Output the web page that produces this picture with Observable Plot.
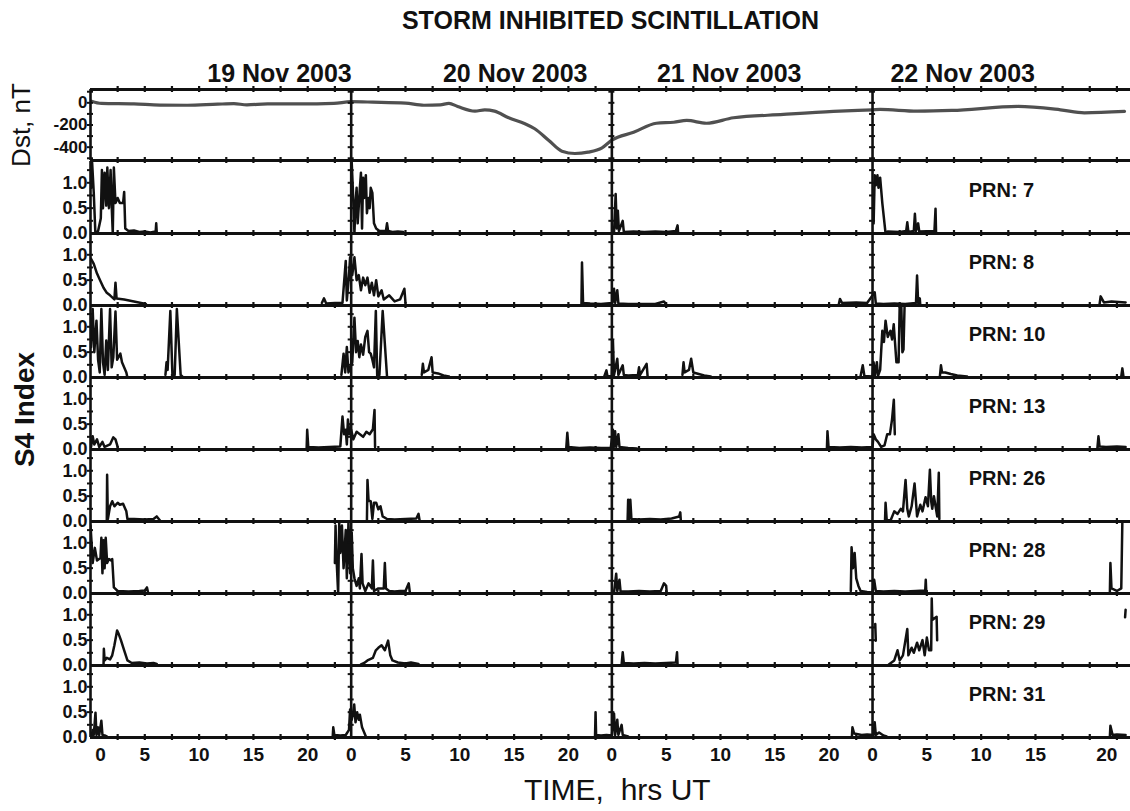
<!DOCTYPE html>
<html><head><meta charset="utf-8">
<script src="https://cdn.jsdelivr.net/npm/d3@7"></script>
<script src="https://cdn.jsdelivr.net/npm/@observablehq/plot@0.6"></script>
<style>
body{margin:0;background:#fff;}
#wrap{position:relative;width:1130px;height:811px;overflow:hidden;background:#fff;}
#wrap svg{position:absolute;left:0;}
</style></head><body><div id="wrap"></div>
<script>
// ---------- DATA (hours counted from 19 Nov 2003 00 UT) ----------
const dayLabels = ["19 Nov 2003", "20 Nov 2003", "21 Nov 2003", "22 Nov 2003"];
const dayLabelHours = [17.4, 39.1, 58.8, 80.3];
const dayStarts = [0, 24, 48, 72];
const hourTickLabels = [0, 5, 10, 15, 20];
const dstTicks = [0, -200, -400];
const s4Ticks = [0, 0.5, 1.0];

const dstHours = [0.1,1,4,6.4,8.9,11.7,13.2,14.4,16.3,19.3,22.4,24,26,29,30.7,32.2,33,33.8,35.4,36.3,37.2,38.5,40,40.9,42.2,43.4,44.6,45.8,47.1,48,50,52.1,53.7,54.9,56.7,59.2,63.8,68.4,72,72.7,76.1,79.3,85.4,89.3,91.5,95.2];
const dstValues = [15,-5,-10,-20,-22,-12,-8,-18,-10,-10,-5,10,6,-3,-22,-18,-5,-33,-75,-63,-75,-135,-189,-234,-340,-436,-457,-445,-406,-337,-266,-184,-175,-159,-184,-135,-105,-78,-63,-60,-75,-69,-33,-63,-90,-78];

const prnNumbers = [7, 8, 10, 13, 26, 28, 29, 31];

// each PRN: list of segments of [hour, S4]
const prn7 = [
  [[0.05,0.9],[0.15,1.4],[0.3,0.8],[0.45,0.0],[0.7,0.05],[0.95,0.3],[1.05,1.25],[1.15,0.5],[1.3,1.2],[1.45,0.55],[1.55,1.3],[1.7,0.5],[1.85,1.25],[1.95,0.55],[2.05,0.0],[2.15,1.3],[2.3,0.6],[2.5,0.7],[2.7,0.6],[3.0,0.6],[3.1,0.82],[3.2,0.1],[3.5,0.05],[4,0.06],[4.5,0.03],[5,0.04],[5.5,0.02],[6.0,0.04],[6.05,0.2],[6.1,0.02]],
  [[24.05,1.4],[24.15,0.9],[24.3,0.0],[24.4,0.6],[24.5,0.9],[24.6,0.2],[24.8,0.9],[24.9,1.2],[25.0,0.1],[25.1,1.1],[25.2,0.7],[25.35,1.15],[25.45,0.4],[25.6,0.7],[25.7,0.5],[25.8,0.9],[25.95,0.8],[26.1,0.2],[26.3,0.1],[26.6,0.05],[27.2,0.05],[27.3,0.2],[27.4,0.05],[27.8,0.03],[28.3,0.04],[28.8,0.03]],
  [[48.2,0.02],[48.35,0.78],[48.45,0.1],[48.55,0.45],[48.65,0.05],[49.0,0.25],[49.1,0.03],[50,0.04],[51,0.03],[52,0.04],[53,0.03],[53.9,0.05],[54.05,0.16],[54.1,0.02]],
  [[72.1,0.2],[72.2,1.15],[72.3,0.95],[72.45,1.15],[72.55,0.9],[72.7,1.1],[72.9,0.6],[73.2,0.0],[73.4,0.04],[74.5,0.03],[75.1,0.05],[75.2,0.22],[75.3,0.03],[75.8,0.05],[75.9,0.39],[76.0,0.05],[76.2,0.2],[76.3,0.04],[77.7,0.05],[77.8,0.49],[77.85,0.0]]
];
const prn8 = [
  [[0.05,0.92],[0.3,0.82],[0.6,0.63],[0.9,0.49],[1.2,0.35],[1.5,0.25],[1.8,0.2],[2.2,0.12],[2.3,0.45],[2.4,0.14],[3.1,0.12],[4.0,0.08],[5.1,0.03]],
  [[21.3,0.05],[21.5,0.14],[21.7,0.04],[22.5,0.05],[23.2,0.05],[23.5,0.88],[23.6,0.1],[23.8,0.6],[23.9,0.95],[24.1,0.6],[24.3,0.95],[24.5,0.5],[24.7,0.6],[24.9,0.3],[25.1,0.55],[25.3,0.4],[25.5,0.55],[25.7,0.25],[25.9,0.45],[26.1,0.2],[26.3,0.5],[26.5,0.18],[26.8,0.3],[27.0,0.12],[27.5,0.2],[28.0,0.08],[28.5,0.12],[28.9,0.33],[29.0,0.05]],
  [[45.2,0.02],[45.25,0.85],[45.35,0.05],[46,0.04],[47,0.03],[47.5,0.04],[48.05,0.05],[48.2,0.33],[48.3,0.05],[48.5,0.3],[48.6,0.04],[49.5,0.03],[50.5,0.03],[52,0.03],[52.8,0.08],[53.0,0.02]],
  [[68.9,0.03],[69.0,0.13],[69.2,0.05],[70.5,0.06],[71.5,0.05],[72.2,0.26],[72.3,0.04],[73,0.03],[74,0.04],[75,0.03],[76.0,0.05],[76.1,0.59],[76.2,0.05],[76.35,0.14],[76.4,0.0]],
  [[92.9,0.02],[93.0,0.18],[93.3,0.06],[94,0.08],[95.3,0.06]]
];
const prn10 = [
  [[0.05,0.6],[0.2,1.35],[0.35,0.5],[0.55,1.12],[0.7,0.35],[0.85,0.1],[1.0,1.35],[1.15,0.3],[1.3,0.05],[1.45,0.73],[1.6,0.15],[1.8,1.35],[1.95,0.2],[2.1,0.4],[2.3,1.3],[2.45,0.35],[2.75,0.47],[2.9,0.3],[3.3,0.1],[3.4,0.0]],
  [[6.9,0.05],[7.0,0.3],[7.1,0.15],[7.35,1.31],[7.55,0.0],[7.75,0.05],[7.95,1.35],[8.3,0.05],[8.45,0.02]],
  [[23.1,0.05],[23.3,0.47],[23.45,0.1],[23.6,0.6],[23.75,0.1],[24.1,0.3],[24.3,1.18],[24.45,0.5],[24.6,0.72],[24.75,0.4],[24.9,0.65],[25.1,0.45],[25.3,0.8],[25.5,0.92],[25.65,0.5],[25.8,0.47],[25.95,0.35],[26.1,0.2],[26.27,1.31],[26.4,0.0],[26.6,0.05],[26.9,1.31],[27.3,0.02],[27.4,0.0]],
  [[30.5,0.05],[30.6,0.27],[30.7,0.1],[31.1,0.15],[31.4,0.4],[31.5,0.1],[32.0,0.08],[32.5,0.04],[33.0,0.02]],
  [[47.3,0.02],[47.5,0.14],[47.6,0.02],[48.0,0.03],[48.1,0.72],[48.2,0.05],[48.5,0.37],[48.6,0.05],[49.0,0.24],[49.1,0.05],[49.5,0.04],[50.4,0.05],[50.5,0.2],[50.6,0.05],[51.2,0.27],[51.3,0.0]],
  [[54.5,0.05],[54.6,0.3],[54.7,0.1],[55.1,0.15],[55.3,0.37],[55.5,0.1],[56,0.07],[56.5,0.04],[57.1,0.02]],
  [[70.9,0.03],[71.1,0.24],[71.25,0.03],[72.0,0.02],[72.1,0.3],[72.2,0.03],[72.4,0.3],[72.5,0.03],[72.7,0.15],[72.9,0.92],[73.05,0.7],[73.2,1.12],[73.4,0.8],[73.65,0.92],[73.8,0.75],[73.95,1.05],[74.2,0.3],[74.4,0.3],[74.5,1.42],[74.65,1.42],[74.75,0.5],[74.85,0.55],[74.95,1.42]],
  [[78.2,0.02],[78.3,0.24],[78.4,0.1],[78.7,0.1],[79.2,0.07],[79.8,0.04],[80.7,0.02]],
  [[94.9,0.02],[95.0,0.18],[95.1,0.02]]
];
const prn13 = [
  [[0.05,0.05],[0.2,0.26],[0.35,0.1],[0.6,0.2],[0.8,0.05],[1.1,0.15],[1.3,0.05],[1.8,0.1],[2.1,0.24],[2.3,0.2],[2.5,0.05]],
  [[19.9,0.03],[19.95,0.39],[20.05,0.05],[21,0.04],[22,0.05],[23.0,0.06],[23.2,0.65],[23.35,0.3],[23.5,0.39],[23.6,0.1],[23.7,0.59],[23.85,0.3],[24.0,0.39],[24.2,0.2],[24.5,0.35],[24.8,0.3],[25.1,0.25],[25.4,0.35],[25.7,0.3],[26.0,0.4],[26.15,0.78],[26.2,0.05]],
  [[43.8,0.02],[43.9,0.33],[44.0,0.05],[45,0.03],[46,0.04],[47,0.03],[47.9,0.03],[48.1,0.39],[48.2,0.05],[48.3,0.36],[48.4,0.05],[48.6,0.3],[48.7,0.05],[49.5,0.03],[50.3,0.02]],
  [[67.8,0.02],[67.85,0.36],[67.95,0.05],[69,0.04],[70,0.05],[71,0.04],[72.0,0.05],[72.1,0.3],[72.3,0.2],[72.5,0.15],[72.8,0.05],[73.1,0.08],[73.35,0.3],[73.6,0.3],[73.8,0.6],[73.96,0.98],[74.05,0.3]],
  [[92.7,0.02],[92.8,0.26],[92.9,0.06],[93.5,0.05],[94.5,0.06],[95.3,0.05]]
];
const prn26 = [
  [[1.5,0.02],[1.53,0.92],[1.6,0.05],[1.8,0.3],[2.0,0.4],[2.2,0.3],[2.5,0.37],[2.7,0.33],[3.0,0.35],[3.3,0.2],[3.4,0.05],[4,0.05],[5,0.04],[5.8,0.05],[6.1,0.1],[6.4,0.02]],
  [[25.45,0.02],[25.5,0.82],[25.6,0.41],[25.8,0.4],[25.95,0.05],[26.1,0.37],[26.3,0.37],[26.5,0.24],[26.7,0.3],[26.9,0.1],[27.3,0.05],[28,0.04],[29,0.05],[30.0,0.06],[30.2,0.15],[30.3,0.02]],
  [[49.45,0.02],[49.5,0.43],[49.6,0.05],[49.7,0.43],[49.8,0.05],[50.5,0.04],[51.5,0.05],[52.5,0.04],[53.5,0.06],[54.2,0.1],[54.3,0.18],[54.35,0.02]],
  [[73.15,0.02],[73.2,0.37],[73.3,0.05],[73.66,0.02],[74.0,0.2],[74.3,0.15],[74.6,0.25],[74.8,0.2],[75.04,0.82],[75.2,0.25],[75.34,0.1],[75.6,0.3],[75.87,0.75],[76.1,0.1],[76.4,0.33],[76.6,0.2],[76.88,0.48],[77.1,0.3],[77.28,1.02],[77.4,0.4],[77.5,0.25],[77.65,0.5],[77.8,0.3],[77.96,0.1],[78.1,0.96],[78.15,0.05]]
];
const prn28 = [
  [[0.0,1.34],[0.1,1.0],[0.2,0.6],[0.4,0.9],[0.6,0.65],[0.92,0.7],[1.0,1.1],[1.1,0.4],[1.2,1.05],[1.3,0.5],[1.4,1.1],[1.53,0.6],[1.7,0.68],[1.9,0.65],[2.0,0.68],[2.15,0.12],[2.5,0.05],[3.5,0.04],[4.5,0.05],[5.0,0.06],[5.2,0.12],[5.3,0.02]],
  [[22.5,0.6],[22.56,1.34],[22.65,0.7],[22.8,0.0],[22.9,1.4],[23.0,0.8],[23.15,1.34],[23.3,0.5],[23.5,1.25],[23.6,0.3],[23.75,1.4],[23.9,0.4],[24.05,1.2],[24.15,0.5],[24.3,0.3],[24.5,0.15],[24.7,0.3],[24.8,0.1],[24.95,0.78],[25.05,0.2],[25.3,0.05],[25.6,0.2],[25.9,0.1],[26.0,0.65],[26.1,0.05],[26.5,0.1],[27.0,0.1],[27.1,0.6],[27.2,0.1],[27.5,0.05],[28,0.04],[28.5,0.05],[29.0,0.05],[29.3,0.2],[29.4,0.02]],
  [[48.2,0.02],[48.4,0.39],[48.5,0.05],[48.7,0.27],[48.8,0.04],[49.5,0.04],[50.5,0.05],[51.5,0.04],[52.5,0.05],[52.8,0.2],[53.0,0.15],[53.05,0.02]],
  [[70.0,0.05],[70.07,0.91],[70.2,0.5],[70.35,0.8],[70.5,0.3],[70.7,0.15],[70.9,0.05],[71.5,0.03],[72.0,0.02],[72.15,0.27],[72.3,0.05],[73,0.04],[74,0.05],[75,0.04],[76,0.05],[76.85,0.06],[76.9,0.27],[76.95,0.02]],
  [[93.85,0.02],[93.9,0.6],[94.0,0.1],[94.5,0.05],[94.9,0.1],[95.0,1.42],[95.1,1.42]]
];
const prn29 = [
  [[1.2,0.02],[1.23,0.33],[1.3,0.1],[1.5,0.15],[1.8,0.12],[2.0,0.2],[2.2,0.4],[2.45,0.69],[2.6,0.62],[2.8,0.5],[3.1,0.3],[3.4,0.1],[3.8,0.05],[4.5,0.06],[5.2,0.04],[5.8,0.05],[6.1,0.03]],
  [[24.9,0.02],[25.2,0.05],[25.5,0.1],[26.0,0.15],[26.27,0.3],[26.5,0.35],[26.8,0.4],[27.1,0.3],[27.4,0.49],[27.6,0.2],[27.8,0.1],[28.3,0.06],[29,0.04],[29.5,0.06],[30.2,0.03]],
  [[48.9,0.02],[49.0,0.26],[49.1,0.05],[50,0.04],[51,0.05],[52,0.04],[53,0.05],[53.9,0.06],[54.0,0.26],[54.05,0.02]],
  [[72.25,0.82],[72.3,0.49]],
  [[73.5,0.02],[74.0,0.1],[74.3,0.3],[74.5,0.1],[74.8,0.2],[75.2,0.72],[75.3,0.2],[75.6,0.35],[75.8,0.25],[76.1,0.45],[76.3,0.3],[76.6,0.5],[76.8,0.2],[77.0,0.55],[77.2,0.3],[77.4,0.3],[77.45,1.32],[77.5,0.9],[77.9,0.96],[77.95,0.5]],
  [[95.25,0.95],[95.3,1.1]]
];
const prn31 = [
  [[0.1,0.02],[0.2,0.15],[0.3,0.05],[0.46,0.49],[0.55,0.05],[0.7,0.2],[0.8,0.05],[1.0,0.33],[1.1,0.05],[1.3,0.04],[1.5,0.02]],
  [[22.3,0.02],[22.35,0.2],[22.45,0.05],[23,0.04],[23.5,0.05],[23.8,0.15],[23.9,0.55],[24.05,0.35],[24.15,0.45],[24.28,0.65],[24.4,0.3],[24.55,0.5],[24.7,0.35],[24.8,0.45],[25.0,0.2],[25.2,0.1],[25.35,0.02]],
  [[46.45,0.02],[46.5,0.5],[46.55,0.05],[47,0.04],[47.5,0.05],[48.0,0.04],[48.2,0.47],[48.3,0.05],[48.5,0.35],[48.6,0.05],[48.9,0.25],[49.0,0.05],[49.5,0.02]],
  [[70.1,0.02],[70.15,0.2],[70.3,0.08],[71,0.05],[71.5,0.06],[72.1,0.05],[72.2,0.3],[72.3,0.05],[72.6,0.1],[73,0.04],[73.3,0.02]],
  [[93.85,0.02],[93.9,0.23],[94.1,0.05],[94.5,0.06],[95.3,0.05]]
];
const prnTraces = [prn7, prn8, prn10, prn13, prn26, prn28, prn29, prn31];

// ---------- BUILD ----------
const FONT = '"Liberation Sans", Arial, Helvetica, sans-serif';
const INK = "#111";
const X_DOMAIN = [0, 95.75];
const minorHourTicks = dayStarts.flatMap(d => d3.range(1, 10).map(k => d + k * 2.5));
const dstData = dstHours.map((t, i) => ({t, v: dstValues[i]}));
const s4Rows = prnNumbers.flatMap((n, k) =>
  prnTraces[k].flatMap((seg, s) => seg.map(([t, v]) => ({prn: n, seg: n + "-" + s, t, v}))));
const dstVTicks = dayStarts.flatMap(d => [-500, -400, -300, -200, -100, 0, 100].map(v => ({d, v})));
const s4VTicks = dayStarts.flatMap(d => [0.25, 0.5, 0.75, 1.0, 1.25].map(v => ({d, v})));
const xAxisTicks = dayStarts.flatMap(d => hourTickLabels.map(h => d + h));
const svgStyle = {background: "transparent", overflow: "visible", fontFamily: FONT, color: INK};

const p1 = Plot.plot({
  width: 1130, height: 164,
  marginLeft: 90, marginRight: 0, marginTop: 89, marginBottom: 4,
  x: {domain: X_DOMAIN, axis: null},
  y: {domain: [-520, 120]},
  style: svgStyle,
  marks: [
    Plot.axisY({ticks: dstTicks, tickSize: 0, tickPadding: 3, tickFormat: d => String(d), fontSize: 17, fontWeight: "bold", label: null}),
    Plot.line(dstData, {x: "t", y: "v", stroke: "#505050", strokeWidth: 3.2, curve: "monotone-x", clip: true}),
    Plot.ruleY([120, -520], {stroke: INK, strokeWidth: 2.8}),
    Plot.ruleX(dayStarts, {stroke: INK, strokeWidth: 2.6}),
    Plot.ruleX(minorHourTicks, {y1: 120, y2: 120, insetTop: 3, insetBottom: 3, stroke: INK, strokeWidth: 2.2}),
    Plot.ruleX(minorHourTicks, {y1: -520, y2: -520, insetTop: 3, insetBottom: 3, stroke: INK, strokeWidth: 2.2}),
    Plot.ruleY(dstVTicks, {y: "v", x1: "d", x2: "d", insetLeft: 3, insetRight: 3, stroke: INK, strokeWidth: 2}),
    Plot.text(["STORM INHIBITED SCINTILLATION"], {text: d => d, frameAnchor: "top", lineAnchor: "middle", dy: -69, fontSize: 25, fontWeight: "bold", fill: INK}),
    Plot.text(dayLabels, {text: d => d, x: (d, i) => dayLabelHours[i], frameAnchor: "top", lineAnchor: "middle", dy: -16, fontSize: 25, fontWeight: "bold", fill: INK}),
    Plot.text(["Dst, nT"], {text: d => d, frameAnchor: "left", lineAnchor: "middle", rotate: -90, dx: -69, textAnchor: "middle", fontSize: 26, fill: INK})
  ]
});

const axisText = {tickSize: 0, tickPadding: 10, tickFormat: d => String(d % 24), fontSize: 19, fontWeight: "bold", label: null};
const p2 = Plot.plot({
  width: 1130, height: 655,
  marginLeft: 90, marginRight: 0, marginTop: 4, marginBottom: 73,
  x: {domain: X_DOMAIN},
  y: {domain: [0, 1.42]},
  fy: {domain: prnNumbers, padding: 0, axis: null},
  style: svgStyle,
  marks: [
    Plot.axisY({ticks: s4Ticks, tickSize: 0, tickPadding: 3, tickFormat: d3.format(".1f"), fontSize: 18, fontWeight: "bold", label: null}),
    Plot.axisX(xAxisTicks.filter(d => d !== 0 && d !== 92), axisText),
    Plot.axisX([0], {...axisText, dx: 10}),
    Plot.axisX([92], {...axisText, dx: 17}),
    Plot.line(s4Rows, {x: "t", y: "v", z: "seg", fy: "prn", stroke: INK, strokeWidth: 2.5, strokeLinejoin: "round", clip: true}),
    Plot.ruleY([0], {stroke: INK, strokeWidth: 2.8}),
    Plot.ruleX(dayStarts, {stroke: INK, strokeWidth: 2.6}),
    Plot.ruleX(minorHourTicks, {y1: 0, y2: 0, insetTop: 3, insetBottom: 3, stroke: INK, strokeWidth: 2.2}),
    Plot.ruleY(s4VTicks, {y: "v", x1: "d", x2: "d", insetLeft: 3, insetRight: 3, stroke: INK, strokeWidth: 2}),
    Plot.text(prnNumbers, {fy: d => d, text: d => "PRN: " + d, x: 80.85, frameAnchor: "top", lineAnchor: "middle", dy: 29, textAnchor: "start", fontSize: 20, fontWeight: "bold", fill: INK}),
    Plot.text(["S4 Index"], {fy: () => 13, text: d => d, frameAnchor: "left", lineAnchor: "middle", rotate: -90, dx: -65, dy: -4, textAnchor: "middle", fontSize: 28, fontWeight: "bold", fill: INK}),
    Plot.text(["TIME,  hrs UT"], {fy: () => 31, text: d => d, x: 48.5, frameAnchor: "bottom", lineAnchor: "middle", dy: 53, textAnchor: "middle", fontSize: 30, fill: INK})
  ]
});

p1.style.top = "0px";
p2.style.top = "156px";
const wrap = document.getElementById("wrap");
wrap.appendChild(p1);
wrap.appendChild(p2);
</script>
</body></html>
